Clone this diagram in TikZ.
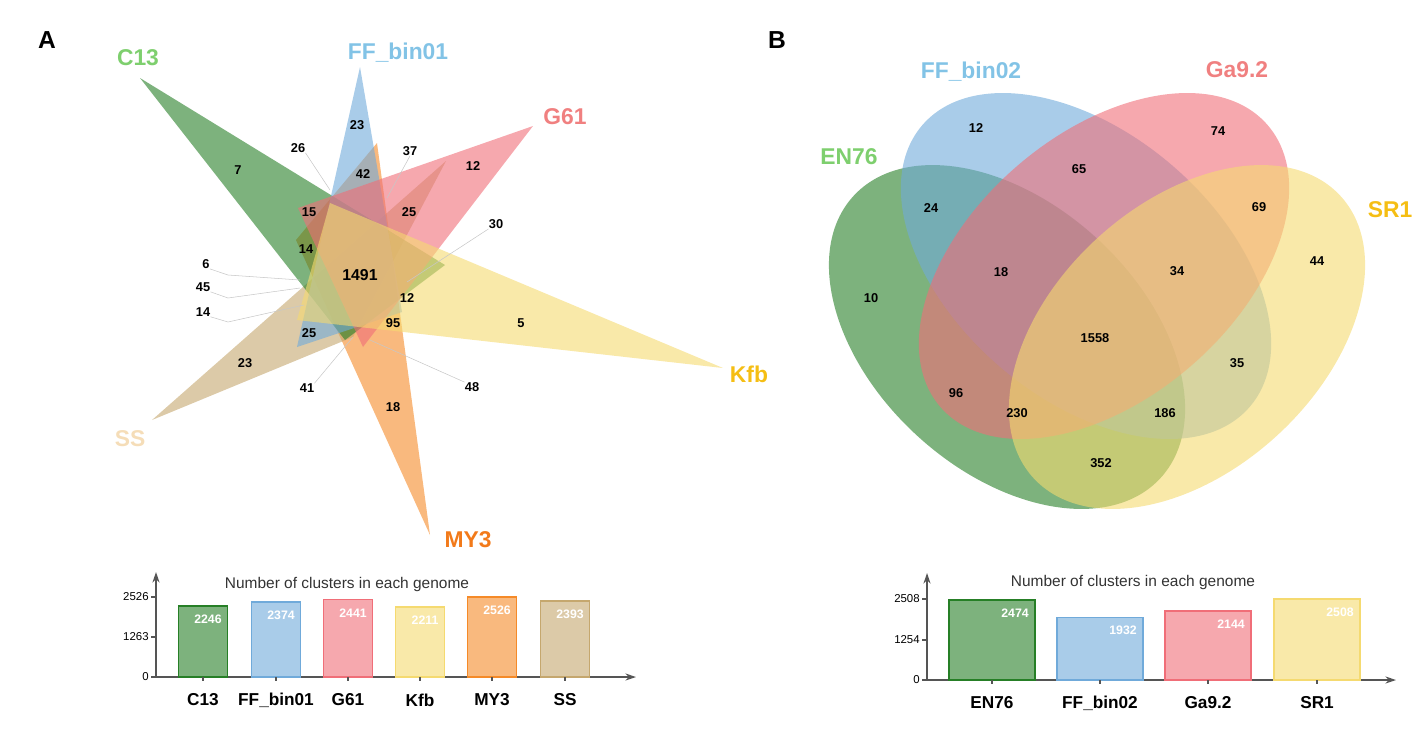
\documentclass[tikz,border=0pt]{standalone}
\usepackage{fontspec}
\setmainfont{Liberation Sans}
\usetikzlibrary{arrows.meta}
\definecolor{setgreen}{HTML}{267F26}
\definecolor{setblue}{HTML}{70AADA}
\definecolor{setpink}{HTML}{F06E78}
\definecolor{setyellow}{HTML}{F5DA70}
\definecolor{setorange}{HTML}{F58A28}
\definecolor{settan}{HTML}{C5A76E}
\definecolor{labgreen}{HTML}{7ECF6E}
\definecolor{labblue}{HTML}{82C3E6}
\definecolor{labpink}{HTML}{F08080}
\definecolor{labgold}{HTML}{F5BE14}
\definecolor{laborange}{HTML}{F27A1A}
\definecolor{labtan}{HTML}{F5DDB8}
\definecolor{axisgray}{HTML}{555555}
\tikzset{
    petal/.style = {fill opacity=0.6},
    set-label/.style = {font=\bfseries\fontsize{13}{15}\selectfont, inner sep=0pt},
    venn-num/.style = {font=\bfseries\fontsize{7.3}{8}\selectfont, inner sep=0pt},
    venn-big/.style = {font=\bfseries\fontsize{9}{10}\selectfont, inner sep=0pt},
    leader/.style = {draw=black!22, line width=0.3pt},
    bar/.style = {fill opacity=0.6, line width=0.9pt},
    bar-value/.style = {text=white, font=\bfseries\fontsize{7}{8}\selectfont, inner sep=0pt},
    bar-name/.style = {font=\bfseries\fontsize{9.8}{11}\selectfont, inner sep=0pt},
    tick-label/.style = {font=\fontsize{6.5}{7}\selectfont, inner sep=0pt, anchor=east},
    chart-title/.style = {font=\fontsize{8.8}{10}\selectfont, text=black!80, inner sep=0pt},
    axis/.style = {draw=axisgray, line width=0.8pt, -{Stealth[length=6pt, width=4pt]}},
    panel-tag/.style = {font=\bfseries\fontsize{14}{16}\selectfont, inner sep=0pt},
}

\begin{document}
\begin{tikzpicture}[x=0.02cm, y=-0.02cm]
\useasboundingbox (0,0) rectangle (1423,728);

% panel A: six-petal flower
\fill[setorange, petal] (430,535) -- (296,240) -- (377,143) -- cycle;
\fill[settan, petal] (152,420) -- (446,161) -- (353,337) -- cycle;
\fill[setgreen, petal] (140,78) -- (345,340) -- (445,265) -- cycle;
\fill[setblue, petal] (360,67) -- (297,347) -- (402,312) -- cycle;
\fill[setpink, petal] (533,126) -- (298,208) -- (363,347) -- cycle;
\fill[setyellow, petal] (723,368) -- (330,203) -- (297,320) -- cycle;

\node[panel-tag] (tagA) at (47,40) {A};
\node[set-label, text=labgreen] (c13) at (138,58) {C13};
\node[set-label, text=labblue] (ffbin01) at (398,53) {FF\_bin01};
\node[set-label, text=labpink] (g61) at (565,117) {G61};
\node[set-label, text=labgold] (kfb) at (749,374) {Kfb};
\node[set-label, text=laborange] (my3) at (468,540) {MY3};
\node[set-label, text=labtan] (ss) at (130,439) {SS};

\foreach \i/\x/\y/\t in {1/238/170/7, 2/357/125/23, 3/363/174/42, 4/473/166/12,
    5/309/212/15, 6/409/212/25, 7/306/249/14, 8/407/298/12, 9/393/323/95,
    10/521/323/5, 11/309/333/25, 12/245/363/23, 13/393/407/18}
    \node[venn-num] (a-\i) at (\x,\y) {\t};
\node[venn-big] (a-core) at (360,275) {1491};

\node[venn-num] (n26) at (298,148) {26};
\node[venn-num] (n37) at (410,151) {37};
\node[venn-num] (n30) at (496,224) {30};
\node[venn-num] (n6) at (206,264) {6};
\node[venn-num] (n45) at (203,287) {45};
\node[venn-num] (n14) at (203,312) {14};
\node[venn-num] (n41) at (307,388) {41};
\node[venn-num] (n48) at (472,387) {48};

\coordinate (p26) at (330,190);
\coordinate (p37) at (387,198);
\coordinate (p30) at (407,282);
\coordinate (k6) at (228,275);
\coordinate (p6) at (300,280);
\coordinate (k45) at (228,298);
\coordinate (p45) at (300,288);
\coordinate (k14) at (228,322);
\coordinate (p14) at (304,305);
\coordinate (p41) at (353,337);
\coordinate (p48) at (370,340);
\draw[leader] (n26.south east) -- (p26);
\draw[leader] (n37.south) -- (p37);
\draw[leader] (n30.south west) -- (p30);
\draw[leader] (n6.south east) -- (k6) -- (p6);
\draw[leader] (n45.south east) -- (k45) -- (p45);
\draw[leader] (n14.south east) -- (k14) -- (p14);
\draw[leader] (n41.north east) -- (p41);
\draw[leader] (n48.north west) -- (p48);

% panel A: bar chart
\draw[axis] (156,677) -- (156,572);
\draw[axis] (156,677) -- (636,677);
\foreach \y/\t in {677/0, 637/1263, 597/2526} {
    \draw[axisgray, line width=0.6pt] (151,\y) -- (156,\y);
    \node[tick-label] (ytickA-\t) at (149,\y) {\t};
}
\node[chart-title] (titleA) at (347,584) {Number of clusters in each genome};
\foreach \i/\xc/\val/\col/\name in {1/203/2246/setgreen/C13, 2/276/2374/setblue/FF\_bin01,
    3/348/2441/setpink/G61, 4/420/2211/setyellow/Kfb, 5/492/2526/setorange/MY3,
    6/565/2393/settan/SS} {
    \pgfmathsetmacro\top{677-\val/2526*80}
    \draw[bar, fill=\col, draw=\col] (\xc-24.5,677) rectangle (\xc+24.5,\top);
    \node[bar-value] (valA-\i) at (\xc+5,\top+13) {\val};
    \draw[axisgray, line width=0.6pt] (\xc,677) -- (\xc,681);
    \node[bar-name] (nameA-\i) at (\xc,700) {\name};
}

% panel B: four ellipses
\fill[setgreen, petal, rotate around={-42.6:(1007,337)}] (1007,337) ellipse [x radius=4.17cm, y radius=2.67cm];
\fill[setblue, petal, rotate around={-40.7:(1086,266)}] (1086,266) ellipse [x radius=4.32cm, y radius=2.65cm];
\fill[setpink, petal, rotate around={40.7:(1104,266)}] (1104,266) ellipse [x radius=4.32cm, y radius=2.65cm];
\fill[setyellow, petal, rotate around={42.6:(1187,337)}] (1187,337) ellipse [x radius=4.17cm, y radius=2.67cm];

\node[panel-tag] (tagB) at (777,40) {B};
\node[set-label, text=labgreen] (en76) at (849,157) {EN76};
\node[set-label, text=labblue] (ffbin02) at (971,72) {FF\_bin02};
\node[set-label, text=labpink] (ga92) at (1237,70) {Ga9.2};
\node[set-label, text=labgold] (sr1) at (1390,210) {SR1};

\foreach \i/\x/\y/\t in {1/976/128/12, 2/1218/131/74, 3/1079/169/65, 4/931/208/24,
    5/1259/207/69, 6/1001/272/18, 7/1177/271/34, 8/1317/261/44, 9/871/298/10,
    10/1095/338/1558, 11/1237/363/35, 12/956/393/96, 13/1017/413/230,
    14/1165/413/186, 15/1101/463/352}
    \node[venn-num] (b-\i) at (\x,\y) {\t};

% panel B: bar chart
\draw[axis] (927,680) -- (927,573);
\draw[axis] (927,680) -- (1396,680);
\foreach \y/\t in {680/0, 640/1254, 599/2508} {
    \draw[axisgray, line width=0.6pt] (922,\y) -- (927,\y);
    \node[tick-label] (ytickB-\t) at (920,\y) {\t};
}
\node[chart-title] (titleB) at (1133,582) {Number of clusters in each genome};
\foreach \i/\xc/\val/\col/\name in {1/992/2474/setgreen/EN76, 2/1100/1932/setblue/FF\_bin02,
    3/1208/2144/setpink/Ga9.2, 4/1317/2508/setyellow/SR1} {
    \pgfmathsetmacro\top{680-\val/2508*81}
    \draw[bar, fill=\col, draw=\col] (\xc-43,680) rectangle (\xc+43,\top);
    \node[bar-value] (valB-\i) at (\xc+23,\top+13) {\val};
    \draw[axisgray, line width=0.6pt] (\xc,680) -- (\xc,684);
    \node[bar-name] (nameB-\i) at (\xc,703) {\name};
}
\end{tikzpicture}
\end{document}
